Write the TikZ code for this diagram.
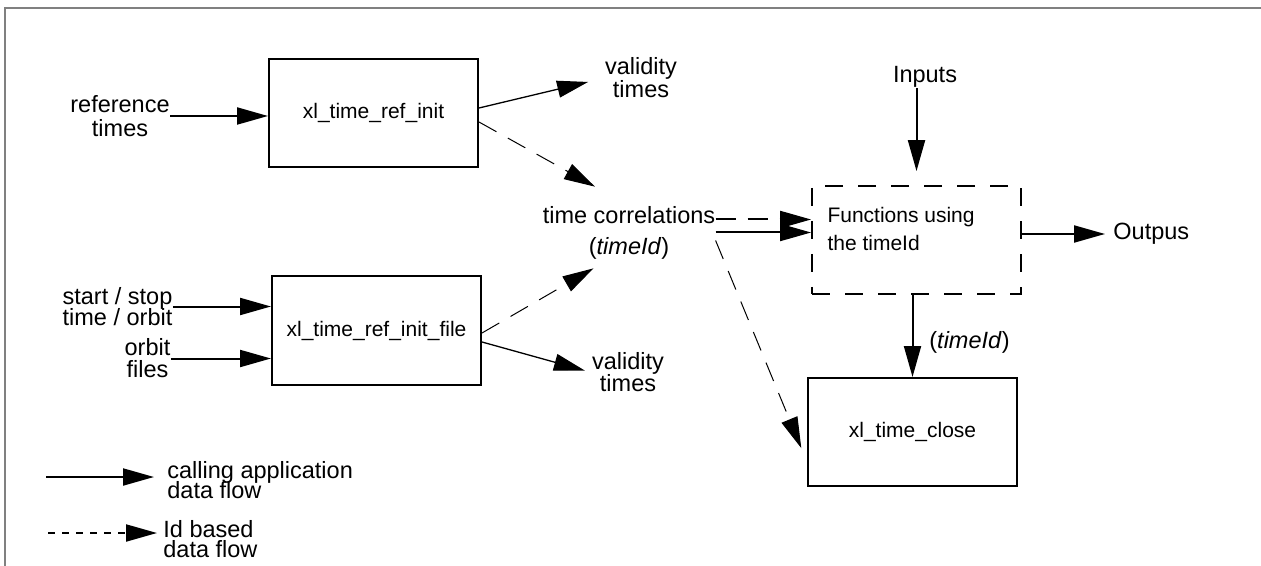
\documentclass[tikz,border=0pt]{standalone}
\usepackage{fontspec}
\setmainfont{Liberation Sans}
\usetikzlibrary{arrows.meta}
\newcommand\tightlines{\lineskiplimit=-20pt\relax}

\begin{document}
\begin{tikzpicture}[x=0.5pt,y=-0.5pt,
    lbl/.style={inner sep=0pt,align=center,font=\fontsize{11.75}{#1}\selectfont\tightlines},
    lbl/.default=11.5pt,
    xlbox/.style={draw,line width=1pt,minimum width=104.5pt,minimum height=54pt,inner sep=0pt,font=\fontsize{10.5}{12}\selectfont},
    idbox/.style={xlbox,line width=0.9pt,dash pattern=on 9pt off 7.5pt},
    bighead/.style={-{Triangle[length=15.5pt,width=8.5pt]}},
    callflow/.style={bighead,line width=1pt},
    thinflow/.style={bighead,line width=0.65pt},
    idflow/.style={bighead,line width=1pt,dash pattern=on 10pt off 6pt},
    thinid/.style={bighead,line width=0.5pt,dash pattern=on 10pt off 6.5pt}]
        \useasboundingbox (0,0) rectangle (1261,566);
        \draw[gray,line width=1.3pt] (5,566) -- (5,8) -- (1261,8);

        \node[xlbox] (init) at (373.5,113) {xl\_time\_ref\_init};
        \node[xlbox] (file) at (376.5,330.5) {xl\_time\_ref\_init\_file};
        \node[idbox] (fn) at (916.5,240) {};
        \node[lbl=14pt,align=left,anchor=north west,font=\fontsize{10.5}{14}\selectfont] (fntext) at ([xshift=8pt,yshift=-11pt]fn.north west) {Functions using\\the timeId};
        \node[xlbox] (close) at (912.5,432) {xl\_time\_close};

        \node[lbl=12pt] (ref) at (120,116) {reference\\times};
        \node[lbl=10.5pt] (ss) at (117.5,306.5) {start / stop\\time / orbit};
        \node[lbl=11pt] (of) at (147.5,358.5) {orbit\\files};
        \node[lbl] (vA) at (641,78) {validity\\times};
        \node[lbl=11pt] (vB) at (628,372.5) {validity\\times};
        \node[lbl=15.5pt] (tc) at (629,232.5) {time correlations\\(\textit{timeId})};
        \node[lbl,anchor=base] (inp) at (925,83) {Inputs};
        \node[lbl,anchor=base west] (out) at (1113,240) {Outpus};
        \node[lbl,anchor=base west] (tid) at (929,348) {(\textit{timeId})};

        \draw[callflow] (ref.east) to (ref.east -| init.west);
        \draw[thinflow,shorten >=8.5pt] ([yshift=2.5pt]init.east) to (vA.west);
        \draw[thinid,shorten >=19.5pt] ([yshift=-4.5pt]init.east) to (tc.north);
        \draw[callflow] (ss.east) to (ss.east -| file.west);
        \draw[callflow] (of.east) to (of.east -| file.west);
        \draw[thinid,shorten >=9pt] ([yshift=-1.25pt]file.east) to ([xshift=-10pt]tc.south);
        \draw[thinflow,shorten >=3.5pt] ([yshift=-5.75pt]file.east) to (vB.west);
        \draw[callflow] (tc.east) to (tc.east -| fn.west);
        \draw[idflow] ([yshift=6.5pt]tc.east) to ([yshift=6.5pt]tc.east -| fn.west);
        \draw[thinid,shorten >=7.5pt] ([yshift=-4pt]tc.east) to ([yshift=-15pt]close.west);
        \draw[callflow,shorten >=7pt] (inp.south -| fn.north) to (fn.north);
        \draw[callflow,shorten >=4pt] ([yshift=3pt]fn.east) to ([yshift=3pt]fn.east -| out.west);
        \draw[callflow] (fn.south -| close.north) to (close.north);

        \coordinate (lgA) at (46,477);
        \coordinate (lgB) at (48,533);
        \node[lbl=10pt,align=left,anchor=west] (lgcall) at (167,480) {calling application\\data flow};
        \node[lbl=10pt,align=left,anchor=west] (lgid) at (163,539) {Id based\\data flow};
        \draw[callflow,shorten >=6.5pt] (lgA) to (lgA -| lgcall.west);
        \draw[bighead,line width=1pt,dash pattern=on 3.5pt off 3.5pt,shorten >=3pt] (lgB) to (lgB -| lgid.west);
\end{tikzpicture}
\end{document}
